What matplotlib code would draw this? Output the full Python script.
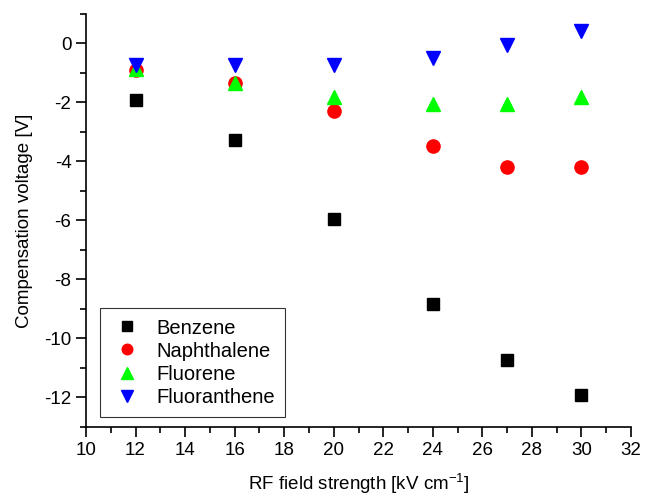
import matplotlib
matplotlib.use("Agg")
import matplotlib.pyplot as plt
from matplotlib.ticker import MultipleLocator

plt.rcParams['font.family'] = ['Liberation Sans', 'DejaVu Sans']
plt.rcParams['axes.unicode_minus'] = False

# RF field strength [kV cm^-1]
field = [12, 16, 20, 24, 27, 30]

benzene = [-1.93, -3.28, -5.95, -8.82, -10.73, -11.9]
naphthalene = [-0.9, -1.35, -2.3, -3.48, -4.19, -4.19]
fluorene = [-0.86, -1.33, -1.8, -2.04, -2.05, -1.8]
fluoranthene = [-0.73, -0.73, -0.73, -0.48, -0.04, 0.44]

fig = plt.figure(figsize=(6.48, 4.98), dpi=100)
ax = fig.add_axes([0.1327, 0.1426, 0.8411, 0.8293])

ax.plot(field, benzene, 's', color='black', markersize=8.5, label='Benzene')
ax.plot(field, naphthalene, 'o', color='red', markersize=9.5, label='Naphthalene')
ax.plot(field, fluorene, '^', color='#00ff00', markersize=10, label='Fluorene')
ax.plot(field, fluoranthene, 'v', color='blue', markersize=10, label='Fluoranthene')

ax.set_xlim(10, 32)
ax.set_ylim(-13, 1)
ax.xaxis.set_major_locator(MultipleLocator(2))
ax.xaxis.set_minor_locator(MultipleLocator(1))
ax.yaxis.set_major_locator(MultipleLocator(2))
ax.yaxis.set_minor_locator(MultipleLocator(1))
ax.set_yticks([0, -2, -4, -6, -8, -10, -12])

for side in ['top', 'right']:
    ax.spines[side].set_visible(False)
ax.spines['left'].set_linewidth(1.2)
ax.spines['bottom'].set_linewidth(1.2)
ax.tick_params(which='major', direction='out', length=7, width=1.2, labelsize=13.5)
ax.tick_params(which='minor', direction='out', length=4, width=1.2)

ax.set_xlabel('RF field strength [kV cm$^{\\mathregular{-1}}$]', fontsize=13.5, labelpad=9)
ax.set_ylabel('Compensation voltage [V]', fontsize=13.5, labelpad=8)

leg = ax.legend(loc='lower left', bbox_to_anchor=(0.025, 0.025), fontsize=14.5,
                frameon=True, fancybox=False, borderpad=0.5, handletextpad=0.6,
                handlelength=1.7, markerscale=0.8,
                labelspacing=0.2, borderaxespad=0)
leg.get_frame().set_edgecolor('black')
leg.get_frame().set_linewidth(0.8)

fig.savefig('out.png', dpi=100)
